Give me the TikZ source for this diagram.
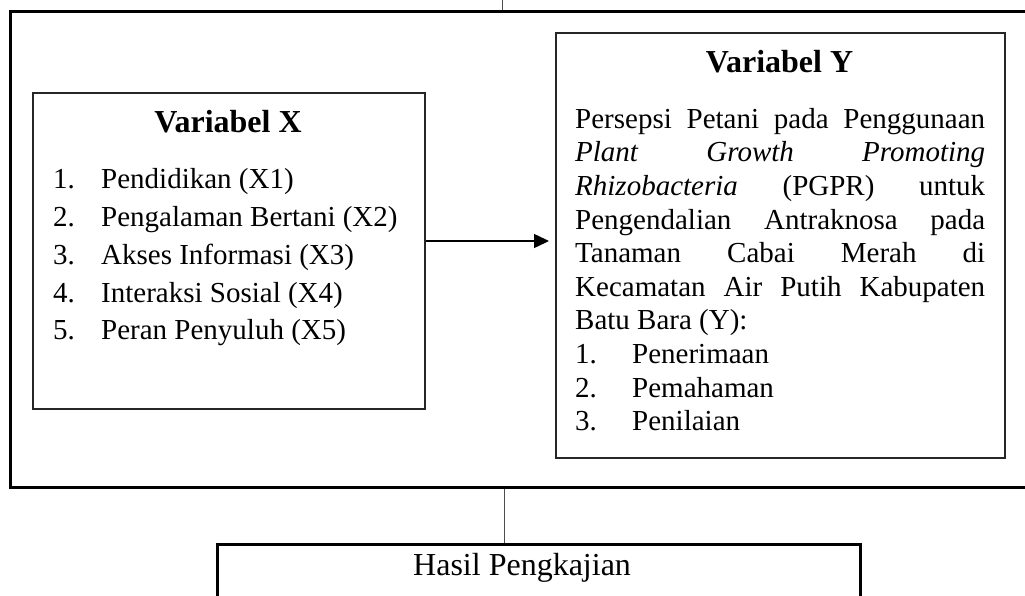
\documentclass[tikz,border=0pt]{standalone}
\usepackage{fontspec}
\setmainfont{Liberation Serif}
\usetikzlibrary{arrows.meta}
\begin{document}
\begin{tikzpicture}[x=1pt,y=-1pt,
  frame/.style={draw=black, line width=3pt, anchor=north west, inner sep=0pt},
  varbox/.style={draw=black!85, line width=2pt, anchor=north west, inner sep=0pt},
  stub/.style={draw=black!70, line width=1pt},
  title/.style={anchor=base, inner sep=0pt, font=\bfseries\fontsize{32}{36}\selectfont},
  body/.style={anchor=base west, inner sep=0pt},
  link/.style={line width=1.5pt, -{Triangle[length=15pt,width=14pt]}}]
\useasboundingbox (0,0) rectangle (1025,596);
\node[frame, minimum width=1040pt, minimum height=476pt] (outer) at (9,10) {};
\node[varbox, minimum width=392pt, minimum height=316pt] (xbox) at (32,92) {};
\node[varbox, minimum width=449pt, minimum height=425pt] (ybox) at (555,32) {};
\node[frame, minimum width=643pt, minimum height=90pt] (hasil) at (216,543) {};

\node[title] (xtitle) at (228,133) {Variabel X};
\node[title] (ytitle) at (779.5,73) {Variabel Y};

\node[body, font=\fontsize{29}{37.7}\selectfont] (xlist) at (53,189) {\parbox[t]{360pt}{%
\makebox[48pt][l]{1.}Pendidikan (X1)\\
\makebox[48pt][l]{2.}Pengalaman Bertani (X2)\\
\makebox[48pt][l]{3.}Akses Informasi (X3)\\
\makebox[48pt][l]{4.}Interaksi Sosial (X4)\\
\makebox[48pt][l]{5.}Peran Penyuluh (X5)}};

\node[body, font=\fontsize{29}{33.6}\selectfont] (ytext) at (575,128.3) {\parbox[t]{410pt}{%
\hyphenpenalty=10000 \tolerance=10000
Persepsi Petani pada Penggunaan\linebreak
\emph{Plant Growth Promoting}\linebreak
\emph{Rhizobacteria} (PGPR) untuk\linebreak
Pengendalian Antraknosa pada\linebreak
Tanaman Cabai Merah di\linebreak
Kecamatan Air Putih Kabupaten\linebreak
Batu Bara (Y):\par
\makebox[57pt][l]{1.}Penerimaan\par
\makebox[57pt][l]{2.}Pemahaman\par
\makebox[57pt][l]{3.}Penilaian}};

\node[body, font=\fontsize{32}{36}\selectfont] (hasiltext) at (413,575) {Hasil Pengkajian};

\draw[link] (xbox.east |- 0,241) -- ([xshift=-6pt]ybox.west |- 0,241);

\coordinate (topend) at (502,0);
\draw[stub] (topend) -- (outer.north west -| topend);
\coordinate (midx) at (504,0);
\draw[stub] (outer.south west -| midx) -- (hasil.north west -| midx);
\end{tikzpicture}
\end{document}
